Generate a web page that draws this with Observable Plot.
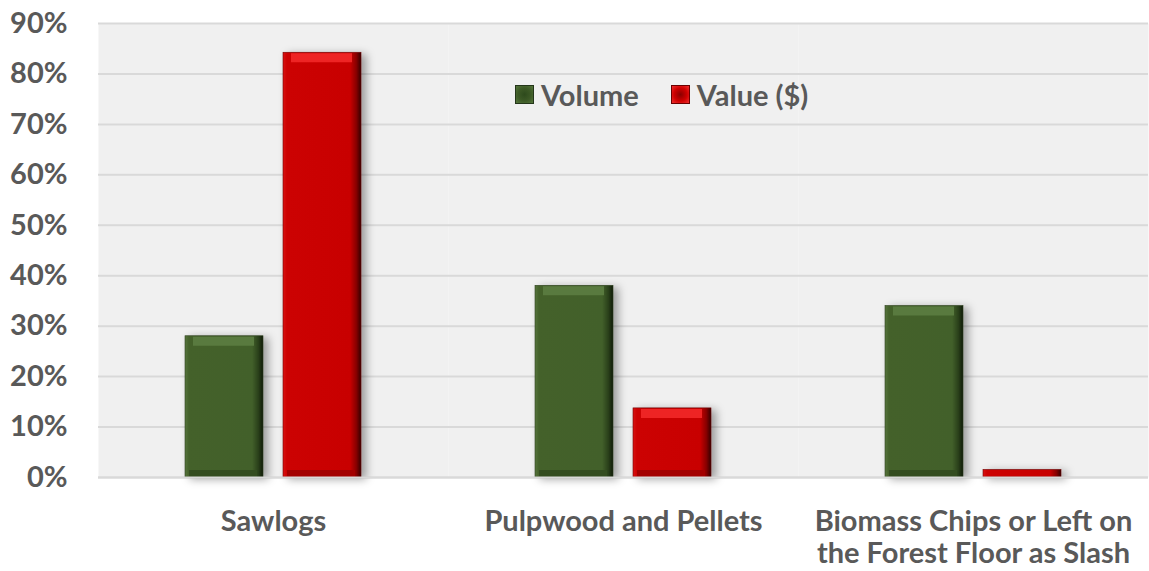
<!DOCTYPE html>
<html>
<head>
<meta charset="utf-8">
<script src="https://cdn.jsdelivr.net/npm/d3@7"></script>
<script src="https://cdn.jsdelivr.net/npm/@observablehq/plot@0.6"></script>
<style>
  html, body { margin: 0; padding: 0; background: #ffffff; }
  #wrap { position: relative; width: 1149px; height: 571px; }
  .shadowed rect { filter: drop-shadow(5px 2px 4px rgba(0,0,0,0.35)); }
  #legend { position: absolute; top: 77px; left: 515px; display: flex; align-items: center;
            font-family: Lato, "Open Sans", sans-serif; font-weight: bold; font-size: 29px; color: #595959; }
  .sw { width: 19px; height: 19px; box-sizing: border-box; margin-right: 7px; }
  .sw.g { background: radial-gradient(circle at 50% 50%, #2e4a1c 0%, #3d5a26 55%, #56763c 100%); border: 1px solid #24361a; }
  .sw.r { background: radial-gradient(circle at 50% 50%, #8a0000 0%, #d00000 55%, #f03030 100%); border: 1px solid #6a0000; }
  .item { display: flex; align-items: center; }
  .item + .item { margin-left: 32px; }
</style>
</head>
<body>
<svg width="0" height="0" style="position:absolute">
  <defs>
    <linearGradient id="gGreen" x1="0" x2="1" y1="0" y2="0">
      <stop offset="0" stop-color="#56743c"/>
      <stop offset="0.05" stop-color="#44612a"/>
      <stop offset="0.86" stop-color="#42602a"/>
      <stop offset="0.94" stop-color="#2a401a"/>
      <stop offset="1" stop-color="#0f1a08"/>
    </linearGradient>
    <linearGradient id="gRed" x1="0" x2="1" y1="0" y2="0">
      <stop offset="0" stop-color="#da1212"/>
      <stop offset="0.05" stop-color="#cc0202"/>
      <stop offset="0.86" stop-color="#c80000"/>
      <stop offset="0.94" stop-color="#880000"/>
      <stop offset="1" stop-color="#350000"/>
    </linearGradient>
  </defs>
</svg>
<div id="wrap">
  <div id="chart"></div>
  <div id="legend">
    <div class="item"><div class="sw g"></div><span>Volume</span></div>
    <div class="item"><div class="sw r"></div><span>Value ($)</span></div>
  </div>
</div>
<script>
const categories = ["Sawlogs", "Pulpwood and Pellets", "Biomass Chips or Left on\nthe Forest Floor as Slash"];
const series = ["Volume", "Value ($)"];
const volume = [0.28, 0.38, 0.34];
const value = [0.842, 0.137, 0.015];
const yTicks = [0, 0.1, 0.2, 0.3, 0.4, 0.5, 0.6, 0.7, 0.8, 0.9];

const volRows = categories.map((c, i) => ({category: c, series: series[0], share: volume[i]}));
const valRows = categories.map((c, i) => ({category: c, series: series[1], share: value[i]}));
const valTall = valRows.filter(d => d.share > 0.05);

const chart = Plot.plot({
  width: 1149,
  height: 571,
  marginTop: 23,
  marginBottom: 94,
  marginLeft: 97,
  marginRight: 0,
  style: {fontFamily: "Lato, 'Open Sans', sans-serif", fontWeight: "bold", fontSize: "29px", color: "#595959", background: "#ffffff"},
  fx: {domain: categories, padding: 0, label: null},
  x: {domain: series, paddingInner: 0.2, paddingOuter: 0.87, axis: null},
  y: {domain: [0, 0.9], label: null},
  marks: [
    Plot.frame({fill: "#f0f0f0", stroke: "none"}),
    Plot.gridY(yTicks, {stroke: "#d9d9d9", strokeOpacity: 1, strokeWidth: 2}),
    Plot.axisY(yTicks, {tickSize: 0, tickPadding: 31, tickFormat: d3.format(".0%"), label: null, fill: "#595959"}),
    Plot.axisFx({anchor: "bottom", tickSize: 0, tickPadding: 31, label: null, lineHeight: 1.1, fill: "#595959"}),
    Plot.barY(volRows, {fx: "category", x: "series", y: "share", fill: "url(#gGreen)", stroke: "#2c3f1c", strokeWidth: 0.6, className: "shadowed"}),
    Plot.barY(valRows, {fx: "category", x: "series", y: "share", fill: "url(#gRed)", stroke: "#700000", strokeWidth: 0.6, className: "shadowed"}),
    Plot.tickY(volRows, {fx: "category", x: "series", y: "share", dy: 5, stroke: "#597a3f", strokeWidth: 9, insetLeft: 8, insetRight: 9}),
    Plot.tickY(valTall, {fx: "category", x: "series", y: "share", dy: 5, stroke: "#ee2424", strokeWidth: 9, insetLeft: 8, insetRight: 9}),
    Plot.tickY(volRows, {fx: "category", x: "series", y: 0, dy: -4, stroke: "#344d20", strokeWidth: 7, insetLeft: 4, insetRight: 6}),
    Plot.tickY(valTall, {fx: "category", x: "series", y: 0, dy: -4, stroke: "#a30000", strokeWidth: 7, insetLeft: 4, insetRight: 6}),
    Plot.ruleY([0], {stroke: "#d9d9d9", strokeWidth: 2})
  ]
});
document.getElementById("chart").appendChild(chart);
</script>
</body>
</html>
